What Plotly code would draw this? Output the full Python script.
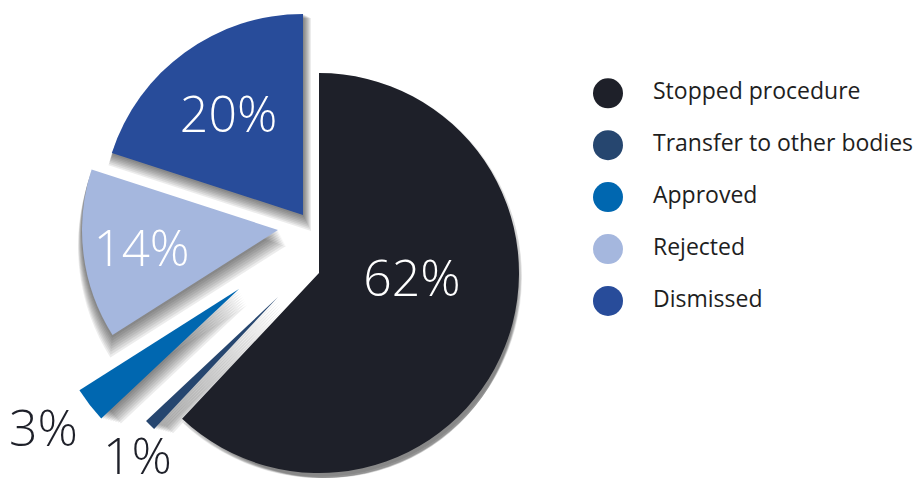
import plotly.graph_objects as go

# ---------------- data ----------------
labels = ["Stopped procedure", "Transfer to other bodies", "Approved", "Rejected", "Dismissed"]
values = [62, 1, 3, 14, 20]
pct_labels = ["62%<br> ", "1%", "3%", "14%", "20%"]
colors = ["#1e2029", "#26466f", "#0067b0", "#a5b7de", "#284c9a"]

# ---------------- layout / style ----------------
W, H = 916, 470   # page body keeps an 8px margin, so the figure is 8px smaller
# exploded position of each slice (pie centre x, centre y, radius) in figure pixels
slice_pos = [(311, 265, 200), (270, 289, 181), (231, 281, 189), (270, 222, 196), (295, 207, 201)]
inside_text = [True, False, False, True, True]
# outside labels (figure pixels, centre of text)
outside_label_pos = {1: (129, 447), 2: (35, 419)}
PCT_FONT = "Open Sans"
LEG_FONT = "Open Sans"
PCT_SIZE = 50
DARK = "#1e2029"


def domain(cx, cy, r):
    r = min(r, cy, H - cy, cx, W - cx)
    return dict(x=[(cx - r) / W, (cx + r) / W],
                y=[max(0.0, 1 - (cy + r) / H), min(1.0, 1 - (cy - r) / H)])


fig = go.Figure()

# soft drop shadows (layered translucent copies)
shadow_layers = [(1.0 * k, 2.0 * k, 1.5 * k, 0.075) for k in range(1, 9)]
for i, (cx, cy, r) in enumerate(slice_pos):
    for dx, dy, dr, a in shadow_layers:
        cols = ["rgba(0,0,0,0)"] * len(values)
        cols[i] = f"rgba(0,0,0,{a})"
        fig.add_trace(go.Pie(
            labels=labels, values=values, sort=False, direction="clockwise", rotation=0,
            marker=dict(colors=cols, line=dict(width=0)),
            textinfo="none", hoverinfo="skip", showlegend=False,
            domain=domain(cx + dx, cy + dy, r + dr),
        ))

# the slices themselves
for i, (cx, cy, r) in enumerate(slice_pos):
    cols = ["rgba(0,0,0,0)"] * len(values)
    cols[i] = colors[i]
    txt = [""] * len(values)
    tpos = ["none"] * len(values)
    if inside_text[i]:
        txt[i] = pct_labels[i]
        tpos[i] = "inside"
    fig.add_trace(go.Pie(
        labels=labels, values=values, sort=False, direction="clockwise", rotation=0,
        marker=dict(colors=cols, line=dict(width=0)),
        text=txt, textinfo="text", textposition=tpos,
        insidetextorientation="horizontal",
        insidetextfont=dict(family=PCT_FONT, size=PCT_SIZE, color="#ffffff", weight=300),
        hoverinfo="skip", showlegend=False,
        domain=domain(cx, cy, r),
    ))

# outside percentage labels for the thin slices
for i, (tx, ty) in outside_label_pos.items():
    fig.add_annotation(
        x=tx / W, y=1 - ty / H, xref="paper", yref="paper",
        text=pct_labels[i], showarrow=False, xanchor="center", yanchor="middle",
        font=dict(family=PCT_FONT, size=PCT_SIZE, color=DARK, weight=300),
    )

# legend drawn as circle markers + labels
idx = list(range(len(labels)))
fig.add_trace(go.Scatter(
    x=[600] * len(labels), y=idx, mode="markers",
    marker=dict(size=30, color=colors, line=dict(width=0)),
    hoverinfo="skip", showlegend=False,
))
fig.add_trace(go.Scatter(
    x=[645] * len(labels), y=idx, mode="text", text=labels,
    textposition="middle right", cliponaxis=False,
    textfont=dict(family=LEG_FONT, size=23, color="#1e1e1e"),
    hoverinfo="skip", showlegend=False,
))

fig.update_layout(
    width=W, height=H,
    margin=dict(l=0, r=0, t=0, b=0),
    paper_bgcolor="white", plot_bgcolor="rgba(0,0,0,0)",
    showlegend=False,
    xaxis=dict(range=[0, W], visible=False, fixedrange=True),
    yaxis=dict(range=[7.412, -1.644], visible=False, fixedrange=True),
)

fig.write_html("out.html")
